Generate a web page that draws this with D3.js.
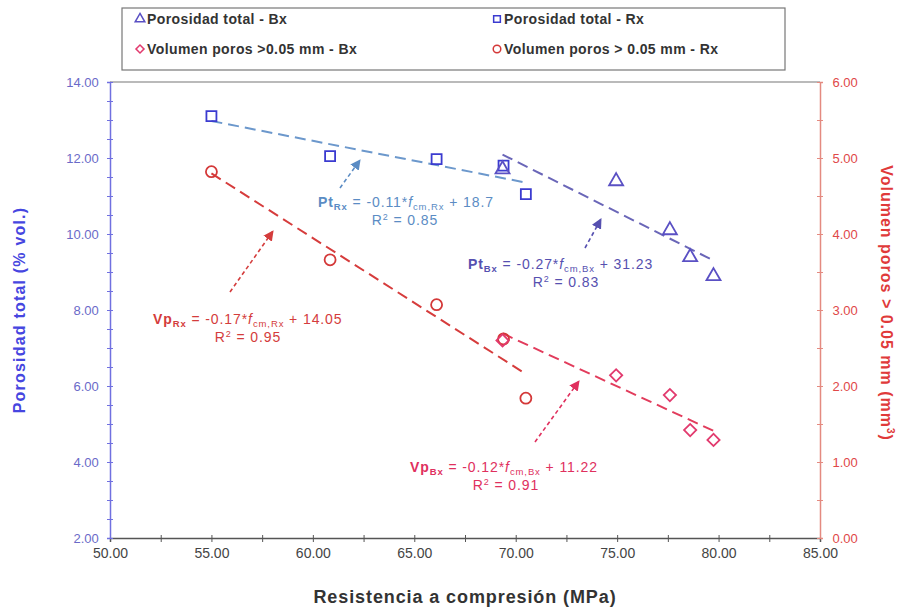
<!DOCTYPE html>
<html>
<head>
<meta charset="utf-8">
<script src="https://cdn.jsdelivr.net/npm/d3@7"></script>
<style>
  body { margin: 0; background: #fff; }
  text { font-family: "Liberation Sans", Arial, sans-serif; }
</style>
</head>
<body>
<svg id="chart" width="906" height="610"></svg>
<script>
// compressive strength (MPa) for each series
var xBx = [69.35, 74.95, 77.6, 78.6, 79.75];
var xRx = [55.0, 60.85, 66.1, 69.4, 70.5];
// total porosity (% vol.)
var ptBx = [11.7, 11.39, 10.1, 9.39, 8.89];
var ptRx = [13.1, 12.05, 11.97, 11.8, 11.05];
// pore volume > 0.05 mm (mm3)
var vpBx = [2.6, 2.14, 1.88, 1.42, 1.29];
var vpRx = [4.82, 3.66, 3.07, 2.62, 1.84];

var xTicks = [50, 55, 60, 65, 70, 75, 80, 85];
var yLeftTicks = [2, 4, 6, 8, 10, 12, 14];
var yRightTicks = [0, 1, 2, 3, 4, 5, 6];

var legendLabels = ["Porosidad total - Bx", "Porosidad total - Rx",
                    "Volumen poros >0.05 mm - Bx", "Volumen poros > 0.05 mm - Rx"];

var margin = { top: 82, right: 86, bottom: 72, left: 110 };
var width = 906, height = 610;

var svg = d3.select("#chart");

var x = d3.scaleLinear().domain([50, 85]).range([margin.left, width - margin.right]);
var yL = d3.scaleLinear().domain([2, 14]).range([height - margin.bottom, margin.top]);
var yR = d3.scaleLinear().domain([0, 6]).range([height - margin.bottom, margin.top]);

var blue = "#3b3bd0", violet = "#5a50c4", red = "#d43838", pink = "#e23a6e";

// plain least squares, same thing the spreadsheet trendline does
function fit(xs, ys) {
  var mx = d3.mean(xs), my = d3.mean(ys);
  var sxy = d3.sum(xs, (v, i) => (v - mx) * (ys[i] - my));
  var sxx = d3.sum(xs, v => (v - mx) * (v - mx));
  var m = sxy / sxx;
  return { m: m, b: my - m * mx };
}

// frame top
svg.append("line")
  .attr("x1", x(50)).attr("x2", x(85))
  .attr("y1", margin.top).attr("y2", margin.top)
  .attr("stroke", "#777").attr("stroke-width", 1.2);

// axes
var xAxis = svg.append("g")
  .attr("transform", `translate(0,${height - margin.bottom})`)
  .call(d3.axisBottom(x).tickValues(d3.range(50, 85.1, 2.5)).tickSize(4)
    .tickFormat(d => xTicks.includes(d) ? d3.format(".2f")(d) : ""));
xAxis.select(".domain").attr("stroke", "#555").attr("stroke-width", 1.5);
xAxis.selectAll(".tick line").attr("stroke", "#555").attr("y1", -3);
xAxis.selectAll("text").attr("fill", "#444").attr("font-size", 14).attr("dy", "0.95em");

var yAxisL = svg.append("g")
  .attr("transform", `translate(${margin.left},0)`)
  .call(d3.axisLeft(yL).tickValues(d3.range(2, 14.01, 0.5)).tickSize(3)
    .tickFormat(d => yLeftTicks.includes(d) ? d3.format(".2f")(d) : ""));
yAxisL.select(".domain").attr("stroke", "#7070e0").attr("stroke-width", 1.5);
yAxisL.selectAll(".tick line").attr("stroke", "#7070e0").attr("x1", 3);
yAxisL.selectAll("text").attr("fill", "#6a6ac8").attr("font-size", 13).attr("dx", "-0.4em");

var yAxisR = svg.append("g")
  .attr("transform", `translate(${width - margin.right},0)`)
  .call(d3.axisRight(yR).tickValues(d3.range(0, 6.01, 0.5)).tickSize(3)
    .tickFormat(d => yRightTicks.includes(d) ? d3.format(".2f")(d) : ""));
yAxisR.select(".domain").attr("stroke", "#e48a80").attr("stroke-width", 1.5);
yAxisR.selectAll(".tick line").attr("stroke", "#e48a80").attr("x1", -3);
yAxisR.selectAll("text").attr("fill", "#e04848").attr("font-size", 13).attr("dx", "0.5em");

// axis titles
svg.append("text")
  .attr("transform", `translate(25,310) rotate(-90)`)
  .attr("text-anchor", "middle").attr("font-size", 16).attr("font-weight", "bold")
  .attr("letter-spacing", 1.2)
  .attr("fill", "#4646e0").text("Porosidad total (% vol.)");

var rt = svg.append("text")
  .attr("transform", `translate(881,303) rotate(90)`)
  .attr("text-anchor", "middle").attr("font-size", 16).attr("font-weight", "bold")
  .attr("letter-spacing", 1)
  .attr("fill", "#e03a3a");
rt.append("tspan").text("Volumen poros > 0.05 mm (mm");
rt.append("tspan").attr("dy", -6).attr("font-size", 10).text("3");
rt.append("tspan").attr("dy", 6).text(")");

svg.append("text")
  .attr("x", 465).attr("y", 603)
  .attr("text-anchor", "middle").attr("font-size", 18).attr("font-weight", "bold")
  .attr("letter-spacing", 0.9)
  .attr("fill", "#333").text("Resistencia a compresión (MPa)");

// trendlines
var trends = [
  { xs: xRx, ys: ptRx, y: yL, color: "#6c98cc" },
  { xs: xBx, ys: ptBx, y: yL, color: "#6a66b8" },
  { xs: xRx, ys: vpRx, y: yR, color: "#d63c3c" },
  { xs: xBx, ys: vpBx, y: yR, color: "#e23c5c" }
];
trends.forEach(function(t) {
  var f = fit(t.xs, t.ys);
  var x0 = d3.min(t.xs), x1 = d3.max(t.xs);
  svg.append("line")
    .attr("x1", x(x0)).attr("y1", t.y(f.m * x0 + f.b))
    .attr("x2", x(x1)).attr("y2", t.y(f.m * x1 + f.b))
    .attr("stroke", t.color).attr("stroke-width", 2)
    .attr("stroke-dasharray", "11,6");
});

// markers
var sym = d3.symbol();
function markers(xs, ys, yScale, type, size, color, rot) {
  svg.append("g").selectAll("path")
    .data(xs)
    .enter().append("path")
      .attr("transform", (d, i) => `translate(${x(d)},${yScale(ys[i])}) rotate(${rot})`)
      .attr("d", sym.type(type).size(size)())
      .attr("fill", "none").attr("stroke", color).attr("stroke-width", 1.8);
}
markers(xRx, ptRx, yL, d3.symbolSquare, 100, blue, 0);
markers(xBx, ptBx, yL, d3.symbolTriangle, 85, violet, 0);
markers(xRx, vpRx, yR, d3.symbolCircle, 95, red, 0);
markers(xBx, vpBx, yR, d3.symbolSquare, 75, pink, 45);

// annotations with dashed arrows
var defs = svg.append("defs");
function arrow(id, color) {
  defs.append("marker").attr("id", id)
    .attr("viewBox", "0 0 10 10").attr("refX", 9).attr("refY", 5)
    .attr("markerWidth", 6.5).attr("markerHeight", 6.5).attr("orient", "auto")
    .append("path").attr("d", "M0,0L10,5L0,10z").attr("fill", color);
}

var notes = [
  { name: "Pt", sub: "Rx", m: "-0.11", b: "+ 18.7", r2: "0.85", color: "#5b8cc4",
    tx: 318, ty: 207, rx: 405, from: [340, 188], to: [360, 160] },
  { name: "Pt", sub: "Bx", m: "-0.27", b: "+ 31.23", r2: "0.83", color: "#5650b0",
    tx: 468, ty: 269, rx: 566, from: [585, 248], to: [601, 219] },
  { name: "Vp", sub: "Rx", m: "-0.17", b: "+ 14.05", r2: "0.95", color: "#d43c3c",
    tx: 153, ty: 324, rx: 248, from: [230, 292], to: [273, 231] },
  { name: "Vp", sub: "Bx", m: "-0.12", b: "+ 11.22", r2: "0.91", color: "#e0305e",
    tx: 410, ty: 472, rx: 506, from: [535, 442], to: [579, 381] }
];
notes.forEach(function(n, i) {
  arrow("ar" + i, n.color);
  svg.append("line")
    .attr("x1", n.from[0]).attr("y1", n.from[1])
    .attr("x2", n.to[0]).attr("y2", n.to[1])
    .attr("stroke", n.color).attr("stroke-width", 1.6)
    .attr("stroke-dasharray", "4,3")
    .attr("marker-end", "url(#ar" + i + ")");
  var t = svg.append("text").attr("x", n.tx).attr("y", n.ty)
    .attr("font-size", 14).attr("letter-spacing", 0.9).attr("fill", n.color);
  t.append("tspan").attr("font-weight", "bold").text(n.name);
  t.append("tspan").attr("font-weight", "bold").attr("font-size", 9.5).attr("dy", 3).text(n.sub);
  t.append("tspan").attr("dy", -3).text(" = " + n.m + "*");
  t.append("tspan").attr("font-style", "italic").text("f");
  t.append("tspan").attr("font-size", 9.5).attr("dy", 3).text("cm," + n.sub);
  t.append("tspan").attr("dy", -3).text(" " + n.b);
  var r = svg.append("text").attr("x", n.rx).attr("y", n.ty + 18)
    .attr("text-anchor", "middle").attr("font-size", 14).attr("letter-spacing", 0.9)
    .attr("fill", n.color);
  r.append("tspan").text("R");
  r.append("tspan").attr("font-size", 9).attr("dy", -5).text("2");
  r.append("tspan").attr("dy", 5).text(" = " + n.r2);
});

// legend
var lg = svg.append("g");
lg.append("rect").attr("x", 122).attr("y", 8).attr("width", 663).attr("height", 62)
  .attr("fill", "#fff").attr("stroke", "#777").attr("stroke-width", 1.2);
var legendItems = [
  { type: d3.symbolTriangle, size: 40, color: violet, rot: 0, lx: 140, ly: 19 },
  { type: d3.symbolSquare, size: 45, color: blue, rot: 0, lx: 497, ly: 19 },
  { type: d3.symbolSquare, size: 32, color: pink, rot: 45, lx: 140, ly: 49 },
  { type: d3.symbolCircle, size: 45, color: red, rot: 0, lx: 497, ly: 49 }
];
legendItems.forEach(function(it, i) {
  lg.append("path")
    .attr("transform", `translate(${it.lx},${it.ly}) rotate(${it.rot})`)
    .attr("d", sym.type(it.type).size(it.size)())
    .attr("fill", "none").attr("stroke", it.color).attr("stroke-width", 1.5);
  lg.append("text").attr("x", it.lx + 7).attr("y", it.ly + 5)
    .attr("font-size", 14).attr("font-weight", "bold").attr("letter-spacing", 0.4)
    .attr("fill", "#333")
    .text(legendLabels[i]);
});
</script>
</body>
</html>
